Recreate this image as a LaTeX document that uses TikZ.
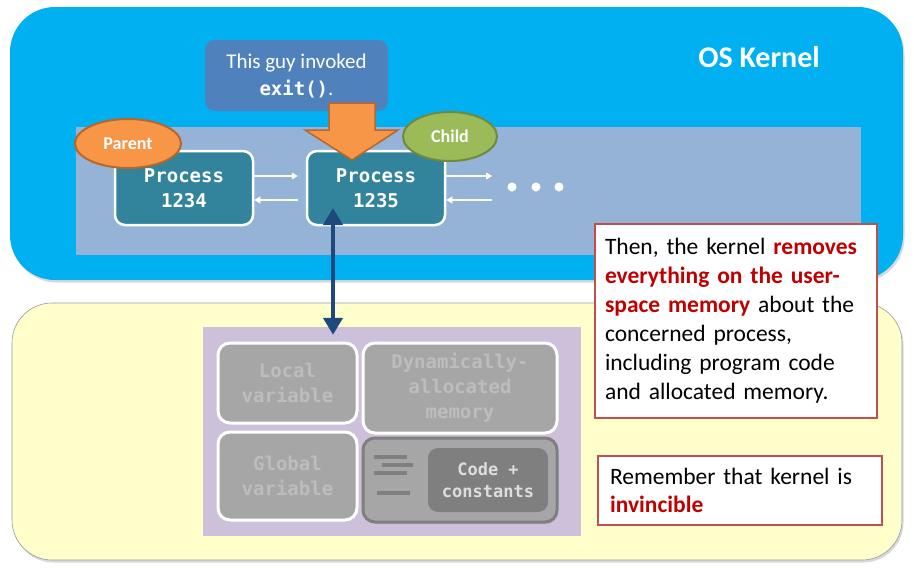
\documentclass[tikz,border=0pt]{standalone}
\usepackage{fontspec}
\setmainfont{Carlito}
\setmonofont{DejaVu Sans Mono}
\usetikzlibrary{arrows.meta,shapes.geometric,calc,shadows}

\definecolor{kernelblue}{HTML}{00B0F0}
\definecolor{bandblue}{HTML}{95B3D7}
\definecolor{calloutblue}{HTML}{4F81BD}
\definecolor{procteal}{HTML}{31849B}
\definecolor{orangefill}{HTML}{F79646}
\definecolor{orangeline}{HTML}{B8662C}
\definecolor{greenfill}{HTML}{9BBB59}
\definecolor{greenline}{HTML}{71893F}
\definecolor{navy}{HTML}{1F497D}
\definecolor{userfill}{HTML}{FFFFCC}
\definecolor{memlilac}{HTML}{CCC0DA}
\definecolor{memgray}{HTML}{A6A6A6}
\definecolor{memtext}{HTML}{BDBDBD}
\definecolor{darkgray}{HTML}{7F7F7F}
\definecolor{codetext}{HTML}{DDDDDD}
\definecolor{noteline}{HTML}{C0504D}
\definecolor{notered}{HTML}{C00000}

\begin{document}
\begin{tikzpicture}[x=1pt,y=-1pt,
  kbox/.style={fill=kernelblue, rounded corners=45pt, inner sep=0pt,
    drop shadow={shadow xshift=1.5pt,shadow yshift=-2.5pt,opacity=0.3}},
  ubox/.style={fill=userfill, draw=gray!80, line width=0.6pt, rounded corners=40pt, inner sep=0pt,
    drop shadow={shadow xshift=1.5pt,shadow yshift=-2.5pt,opacity=0.3}},
  band/.style={fill=bandblue, inner sep=0pt},
  callout/.style={fill=calloutblue, rounded corners=10pt, inner sep=0pt, align=center,
    text=white, font=\fontsize{21}{27}\selectfont},
  procbox/.style={fill=procteal, draw=white, line width=2.5pt, rounded corners=10pt,
    minimum width=138pt, minimum height=74pt, inner sep=0pt, align=center, text=white,
    font=\ttfamily\bfseries\fontsize{19}{25}\selectfont},
  tagellipse/.style={ellipse, line width=2pt, inner sep=0pt, text=white,
    font=\bfseries\fontsize{18}{20}\selectfont},
  flow/.style={draw=white, line width=1.1pt, -{Triangle[width=7pt,length=6pt]}},
  dotnode/.style={circle, fill=white, minimum size=9pt, inner sep=0pt},
  link/.style={draw=navy, line width=4.5pt, {Triangle[width=19pt,length=17pt]}-{Triangle[width=19pt,length=17pt]}},
  memarea/.style={fill=memlilac, inner sep=0pt},
  segbox/.style={fill=memgray, draw=white, line width=3pt, rounded corners=12pt, inner sep=0pt,
    align=center, text=memtext, font=\ttfamily\bfseries\fontsize{19}{25}\selectfont},
  codebox/.style={fill=memgray, draw=darkgray, line width=3pt, rounded corners=12pt, inner sep=0pt,
    drop shadow={shadow xshift=1pt,shadow yshift=-2pt,opacity=0.3}},
  codecore/.style={fill=darkgray, rounded corners=10pt, inner sep=0pt, align=center, text=codetext,
    font=\ttfamily\bfseries\fontsize{17}{22}\selectfont},
  codeline/.style={draw=darkgray, line width=4pt},
  notebox/.style={fill=white, draw=noteline, line width=2pt, align=left, text=black,
    font=\fontsize{23.5}{29}\selectfont},
  hot/.style={text=notered, font=\bfseries}
]
\useasboundingbox (0,0) rectangle (914,573);

% kernel space and user space
\node[kbox, minimum width=893pt, minimum height=273pt] (kernel) at (456.5,143.5) {};
\node[ubox, minimum width=890pt, minimum height=257pt] (user) at (457,431.5) {};
\node[font=\bfseries\fontsize{30}{36}\selectfont, text=white] (oslabel) at (759,57) {OS Kernel};

% process list band
\node[band, minimum width=785pt, minimum height=128pt] (list) at (468.5,191) {};

% callout
\node[callout, minimum width=183pt, minimum height=71pt] (say) at (296.5,75.5)
  {This guy invoked\\{\ttfamily\bfseries\fontsize{19}{27}\selectfont exit()}.};

% processes
\node[procbox] (p1) at (184,188) {Process\\1234};
\node[procbox] (p2) at (376,188) {Process\\1235};

% orange block arrow pointing at the child process
\draw[orangeline, fill=orangefill, line width=1.5pt, line join=miter]
  (329,103) -- (375,103) -- (375,130) -- (398,130) -- (352,160) -- (305,130) -- (329,130) -- cycle;

% tags
\node[tagellipse, fill=orangefill, draw=orangeline, minimum width=106pt, minimum height=49pt]
  (parent) at (128,143.5) {Parent};
\node[tagellipse, fill=greenfill, draw=greenline, minimum width=94pt, minimum height=49pt]
  (child) at (450,136.5) {Child};

% list links
\coordinate (r1) at (492,176);
\coordinate (r2) at (492,200);
\draw[flow, shorten >=8pt] ([yshift=12pt]p1.east) -- ([yshift=12pt]p2.west);
\draw[flow, shorten <=8pt] ([yshift=-12pt]p2.west) -- ([yshift=-12pt]p1.east);
\draw[flow] ([yshift=12pt]p2.east) -- (r1);
\draw[flow] (r2) -- ([yshift=-12pt]p2.east);
\node[dotnode] (d1) at (512,187) {};
\node[dotnode] (d2) at (536,187) {};
\node[dotnode] (d3) at (559,187) {};

% user-space memory of the process
\node[memarea, minimum width=378pt, minimum height=209pt] (mem) at (392,431.5) {};
\node[segbox, minimum width=139pt, minimum height=80pt] (local) at (287.5,383) {Local\\variable};
\node[segbox, minimum width=194pt, minimum height=90pt] (heap) at (460,388) {Dynamically-\\allocated\\memory};
\node[segbox, minimum width=139pt, minimum height=88pt] (global) at (287.5,476) {Global\\variable};
\node[codebox, minimum width=194pt, minimum height=84pt] (code) at (460,480) {};
\node[codecore, minimum width=120pt, minimum height=64pt] (core) at (488,480) {Code +\\constants};
\draw[codeline] (374,457) -- (407,457);
\draw[codeline] (382,465) -- (413,465);
\draw[codeline] (374,473) -- (407,473);
\draw[codeline] (377,493) -- (410,493);

% kernel <-> process memory
\draw[link] ($(p2.center)+(-43,20)$) -- ($(mem.north)+(-59,8)$);

% notes
\node[notebox, text width=262pt, inner xsep=10pt, minimum height=194pt] (note1) at (736,321)
  {Then, the kernel {\color{notered}\bfseries removes}\\
   {\color{notered}\bfseries everything on the user-}\\
   {\color{notered}\bfseries space memory} about the\\
   concerned process,\\
   including program code\\
   and allocated memory.};
\node[notebox, text width=260pt, inner xsep=12pt, minimum height=69pt,
  font=\fontsize{23.5}{28}\selectfont] (note2) at (740,490.5)
  {Remember that kernel is\\
   {\color{notered}\bfseries invincible}};
\end{tikzpicture}
\end{document}
